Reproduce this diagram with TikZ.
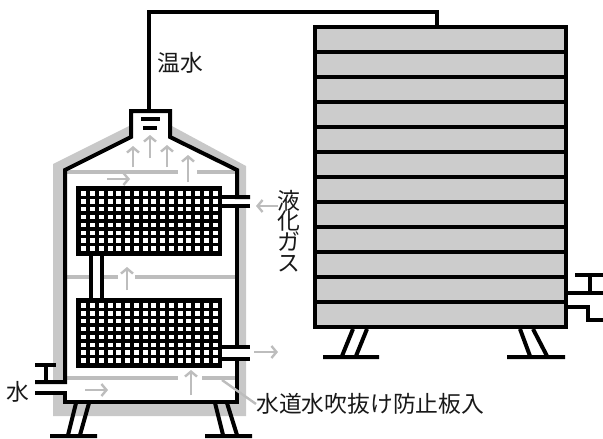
\documentclass[tikz,border=0pt]{standalone}
\usepackage{fontspec}
\setmainfont{Noto Sans CJK JP}
\usetikzlibrary{arrows.meta}
\definecolor{shell}{HTML}{C8C8C8}
\definecolor{flow}{HTML}{BDBDBD}
\definecolor{slat}{HTML}{CCCCCC}
\tikzset{
  wall/.style={line width=4pt, line join=miter},
  flowline/.style={draw=flow, line width=4pt},
  flowarrow/.style={draw=flow, line width=2.4pt, -{Straight Barb[length=5pt,width=12pt]}},
  txt/.style={font=\fontsize{22.8}{20.7}\selectfont, inner sep=0pt, text=black!90},
}
% heat-exchanger coil: black block with a 16 x 8 grid of white cells
\newcommand\coilblock[1]{%
  \fill[black] (76,#1) rectangle (222,#1+70);
  \foreach \i in {0,...,15}
    \foreach \j in {0,...,7}
      \fill[white] ({81.3+\i*8.76},{#1+5.3+\j*7.85}) rectangle ++(5,4.4);
}
\begin{document}
\begin{tikzpicture}[x=1pt,y=-1pt]
\useasboundingbox (0,0) rectangle (603,439);

% ---------- heater ----------
% insulating shell
\fill[shell] (53,416) -- (53,164) -- (131,125) -- (170,125) -- (246,166) -- (246,416) -- cycle;
% body interior
\fill[white] (65,402) -- (65,170) -- (131,137) -- (131,111) -- (170,111) -- (170,137) -- (237,170) -- (237,402) -- cycle;
% pipe interiors through the shell
\fill[white] (30,382) rectangle (65,393);
\fill[white] (237,197) rectangle (250,206);
\fill[white] (237,347) rectangle (250,359);

% baffles and flow of the combustion gas
\draw[flowline] (67,172) -- (178,172);
\draw[flowline] (197,172) -- (235,172);
\draw[flowline] (67,277) -- (118,277);
\draw[flowline] (135,277) -- (235,277);
\draw[flowline] (67,378) -- (178,378);
\draw[flowline] (202,378) -- (235,378);
\draw[flowarrow] (133,167) -- (133,146);
\draw[flowarrow] (150,158) -- (150,135);
\draw[flowarrow] (167,167) -- (167,145);
\draw[flowarrow] (188,182) -- (188,155);
\draw[flowarrow] (107,179) -- (130,179);
\draw[flowarrow] (127,290) -- (127,267);
\draw[flowarrow] (191,395) -- (191,370);
\draw[flowarrow] (85,390) -- (108,390);
\draw[flowarrow] (278,206) -- (256,206);
\draw[flowarrow] (254,352) -- (278,352);

% coils and the pipe joining them
\coilblock{186}
\coilblock{298}
\fill[white] (91,256) rectangle (102,298);
\draw[wall] (91,256) -- (91,298) (102,256) -- (102,298);

% outer walls
\draw[wall] (250,197) -- (237,197) -- (237,170) -- (170,137) -- (170,111) -- (131,111)
  -- (131,137) -- (65,170) -- (65,382) -- (35,382);
\draw[wall] (35,393) -- (65,393) -- (65,402) -- (237,402) -- (237,359) -- (250,359);
\draw[wall] (250,206) -- (237,206) -- (237,347) -- (250,347);
% gas pipes from the coils
\draw[wall] (222,197) -- (237,197) (222,206) -- (237,206)
  (222,347) -- (237,347) (222,359) -- (237,359);
% water valve handle
\draw[wall] (35,365) -- (56,365) (46,365) -- (46,382);
% flue marks
\draw[line width=3.5pt] (141,119) -- (160,119) (143,128) -- (157,128);
% heater legs
\draw[wall] (76,403) -- (68,435) (89,403) -- (80,435) (50,436) -- (97,436);
\draw[wall] (215,403) -- (223,435) (227,403) -- (237,435) (205,436) -- (252,436);

% hot-water pipe to the tank
\draw[wall] (149,111) -- (149,12) -- (437,12) -- (437,27);

% ---------- storage tank ----------
\fill[slat] (315,27) rectangle (566,327);
\foreach \k in {1,...,11}
  \draw[line width=3.6pt] (315,{27+25*\k}) -- (566,{27+25*\k});
\draw[line width=4.5pt] (315,27) rectangle (566,327);
% tap
\draw[wall] (566,293) -- (603,293) (575,275) -- (603,275) (590,275) -- (590,293)
  (566,307) -- (588,307) -- (588,320) -- (603,320);
% tank legs
\draw[wall] (353,329) -- (342,356) (367,329) -- (356,356) (323,357) -- (379,357);
\draw[wall] (520,329) -- (530,356) (533,329) -- (547,356) (507,357) -- (565,357);

% ---------- labels ----------
\node[txt] (hot) at (180,63) {温水};
\node[txt, align=center] (gas) at (289,231) {液\\化\\ガ\\ス};
\node[txt] (water) at (18,392) {水};
\node[txt, anchor=west] (plate) at (256,404) {水道水吹抜け防止板入};
\coordinate (plateend) at (222,380);
\draw[draw=flow, line width=2.4pt] (plateend) -- (plate.west);
\end{tikzpicture}
\end{document}
